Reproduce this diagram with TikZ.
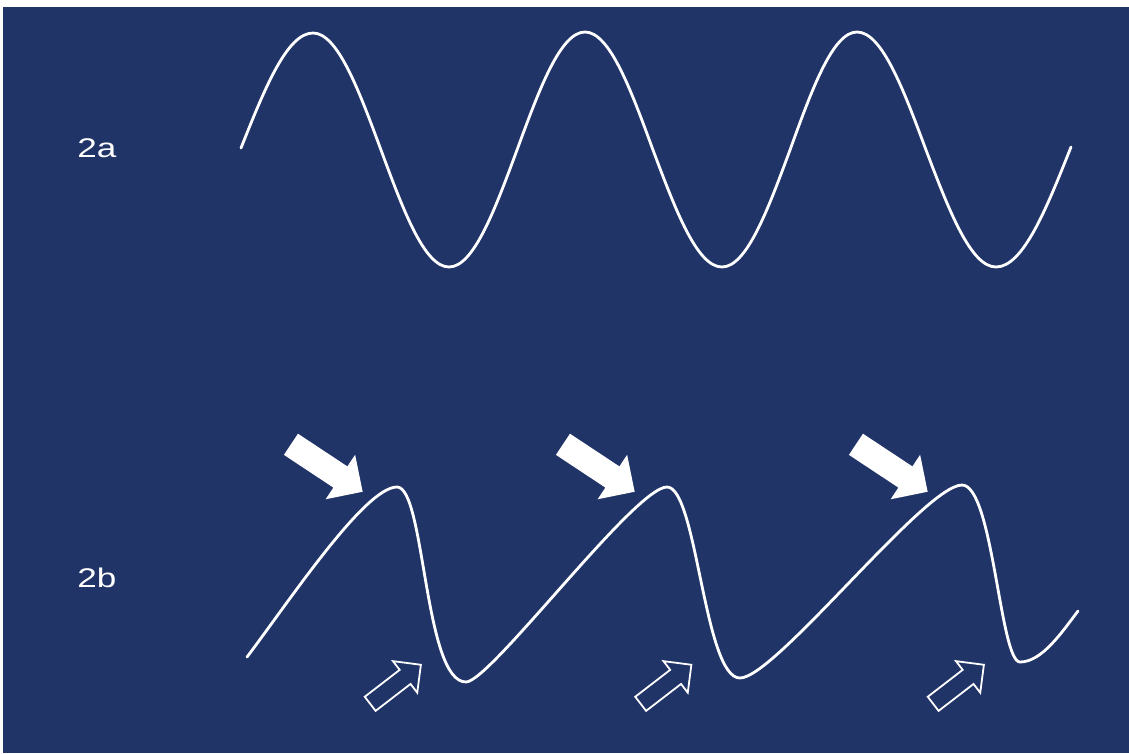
\documentclass[tikz,border=0pt]{standalone}
\usepackage{fontspec}
\setmainfont{Liberation Sans}
\usetikzlibrary{shapes.arrows}
\definecolor{navy}{RGB}{33,52,104}
\tikzset{
  lbl/.style={text=white,font=\fontsize{27}{30}\selectfont,inner sep=0pt,anchor=base west,xscale=1.3},
  wv/.style={draw=white,line width=2.8pt,line cap=round,line join=round},
  fa/.style={single arrow,fill=white,inner xsep=0pt,inner ysep=12.5pt,minimum height=86pt,single arrow head extend=14pt},
  ha/.style={single arrow,draw=white,line width=1.8pt,inner xsep=0pt,inner ysep=8pt,minimum height=64pt,single arrow head extend=11pt},
}
\begin{document}
\begin{tikzpicture}[x=1pt,y=-1pt]
\fill[white] (0,0) rectangle (1129,753); \fill[navy] (3,7) rectangle (1129,753);
\node[lbl] (la) at (77,157){2a}; \node[lbl] (lb) at (77,587){2b};
\draw[wv] (241,148) sin (313,33) cos (381,150) sin (449,267) cos (517,150) sin (585,32) cos (653,150)
  sin (722,267) cos (790,150) sin (857,32) cos (926,150) sin (996,267) cos (1071,147);
\draw[wv] (247,657) .. controls (290,600) and (365,487) .. (397,487) .. controls (425,487) and (424,682) .. (466,682)
  .. controls (490,682) and (635,487) .. (667,487) .. controls (697,487) and (704,678) .. (740,678)
  .. controls (775,678) and (925,485) .. (962,485) .. controls (993,485) and (1000,662) .. (1020,662)
  .. controls (1042,662) and (1062,632) .. (1078,611);
\node[fa,rotate=-33.5] (f1) at (321.5,464.5){}; \node[fa,rotate=-33.5] (f2) at (593.5,464.5){};
\node[fa,rotate=-33.5] (f3) at (886.5,464.5){};
\node[ha,rotate=37.6] (h1) at (392,687){}; \node[ha,rotate=37.6] (h2) at (662.5,687){};
\node[ha,rotate=37.6] (h3) at (955,687){};
\end{tikzpicture}
\end{document}
